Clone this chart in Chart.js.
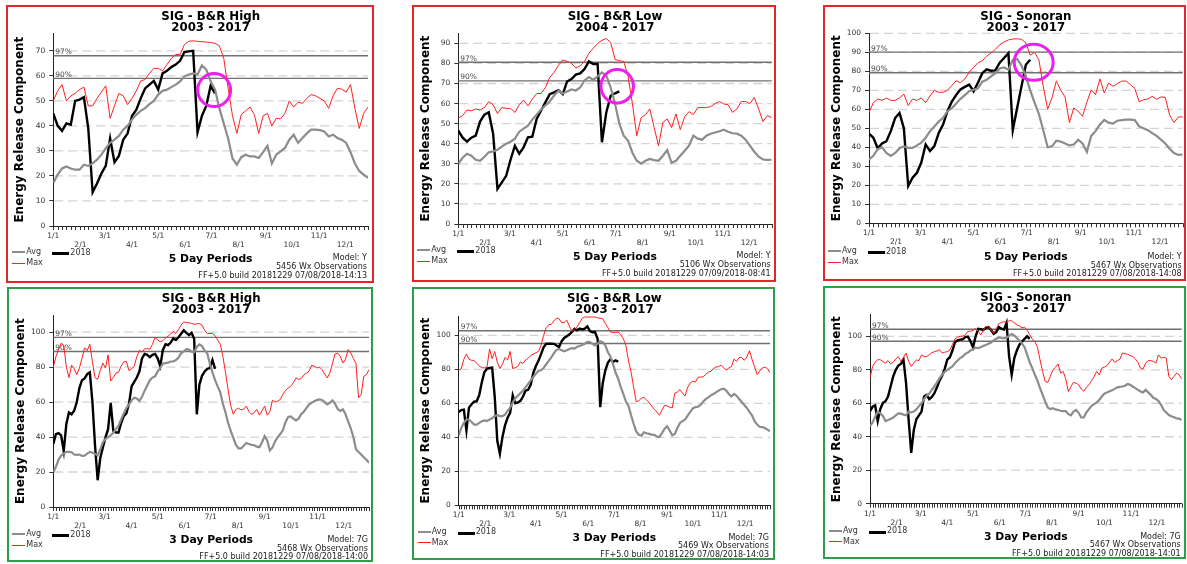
<!DOCTYPE html>
<html><head><meta charset="utf-8">
<script src="https://cdn.jsdelivr.net/npm/chart.js@4.4.1/dist/chart.umd.min.js"></script>
<style>
html,body{margin:0;padding:0;background:#fff;}
body{width:1187px;height:564px;position:relative;overflow:hidden;font-family:'DejaVu Sans','Liberation Sans',sans-serif;}
.panel{position:absolute;box-sizing:border-box;border:2px solid;}
.panel canvas{position:absolute;left:0;top:0;}
.t{position:absolute;white-space:nowrap;color:#000;}
.ln{position:absolute;}
</style></head><body>
<script>
// ---------- tick labels / categories ----------
const monthLabels = ['1/1','2/1','3/1','4/1','5/1','6/1','7/1','8/1','9/1','10/1','11/1','12/1'];
const monthStartDays = [0,31,59,90,120,151,181,212,243,273,304,334];
const yTicksTop1 = [0,10,20,30,40,50,60,70];
const yTicksTop2 = [0,10,20,30,40,50,60,70,80,90];
const yTicksTop3 = [0,10,20,30,40,50,60,70,80,90,100];
const yTicksBottom = [0,20,40,60,80,100];

// ---------- Panel 1: SIG - B&R High, 5 day ----------
const bhHigh5Avg = [17.2,20.5,23,23.8,23,22.5,22.5,24.5,24,25,26.5,28.5,31,33.2,34.5,36,38.5,40,42.5,44.5,46,47.1,48.7,50,52.5,54,54.5,55.5,56.5,57.8,59.8,60.5,61,60.5,64.2,62.5,57.8,54.5,47,41,35,27,24.5,27.5,28.5,27.8,27.8,27.2,29.5,32,25,28.5,29.8,31.2,34.5,36.5,33.2,35.2,37,38.5,38.5,38.3,37.8,35.8,36.5,35.2,34.5,33.2,29.5,25,22,20.5,19.2];
const bhHigh5Max = [50,54,56.5,50,52,53,54.5,55.5,48,48,51,53.5,56,43,48,53,52,48.5,51,54,58,58.5,61,63,63,62,64.5,67,68.5,68.5,72.5,73.8,74,73.8,73.6,73.5,73.3,73,72,67,55,44,37,44.5,46,47.5,44.5,37,44,45,40,43,42.8,45,50,47.5,49.5,49,51,52.5,52,51,50,47,52,55,54.7,53.5,56.5,47,39,45,47.5];
const bhHigh5Y2018 = [45,40,38,41,40.5,50,50.5,51.5,39,13.5,17,21,24,35,25.5,28,34.5,37,44,46.5,51,55,56.5,58,54.5,61,62,63.5,64.5,66,69.5,69.8,70,37.5,44,48,56,53];

// ---------- Panel 2: SIG - B&R Low, 5 day ----------
const bhLow5Avg = [30,33,35,34,32,31.5,33.5,35.7,36.2,37,38.5,40,41,42.5,46,47.5,49,52,54.5,57,59,61,64,66.4,65,66,67,66.5,68,71.5,73.2,71.8,73.5,75.5,74,68,60,50,44,41.5,35.5,31.5,30,31.5,32.4,31.8,31.5,34,36.8,30.5,31.5,34,36.5,39,44,42.5,42,44,45,45.6,46.2,47,46,45.2,45,44,42,39,36,33.5,32.2,31.9,32];
const bhLow5Max = [52.8,54,56.8,56.4,57.3,56.8,58,61,59.4,55,58,57.6,57.6,55.6,59.4,61.7,58.8,62.2,65,65,68,73,75.5,79,81.7,81,80,77.7,78.8,81,85,87.5,90,91.5,92.4,90.5,82,81.3,81,73.5,60,44,53,54.4,57.3,48,39,50.6,52.3,48,54.8,47,53.4,56,54.5,58,58,58,58.5,60,61,59.8,59.4,55.6,57.3,61,61,60,63,57.3,51,54,53];
const bhLow5Y2018 = [46.5,43,41,43,44,51,54.5,55.6,45,17.5,20.7,24,32,39,35,38.2,43.2,43.5,52.3,56.4,60.6,64.7,65.6,66.7,64.7,71,72.2,74.4,75,77.2,81,79.7,79.7,40.7,55.6,63.9,65.1,66.1];

// ---------- Panel 3: SIG - Sonoran, 5 day ----------
const son5Avg = [33.6,35.5,39,40,37,35.5,37,39.5,40.5,39.7,39.7,41,42.5,45,48.5,51,53.5,55.5,59,60.5,63,65.5,67.5,69.5,70.3,71,74.5,75.5,77.3,79,81.5,82,80.8,86,86.5,83,77.3,70,63.5,57.5,49,40,40.5,43.5,43,42,41,41.5,44,42,37.5,46,48.5,52,54.4,53,52.5,54,54.3,54.6,54.6,54.3,51,50,49,47.5,46,44,42,39.2,37,36,36.2];
const son5Max = [58.4,63.5,65.4,64.7,65.9,64.7,64.7,66,68,62,65.4,64.7,66,63.5,67,70,69,68.9,70,72.5,75,74,76,79.5,82,84.5,85.5,88,89.6,91.5,94,95.5,96.5,97,97.1,96.8,95,88.5,90,86,72,60,66,75,70,66.5,53,60.7,59,56.3,63.7,70.3,67.7,76,68.6,73.8,72.1,73.5,74.8,74.9,73,71,64,65,65.4,66.8,65.3,66.5,66.2,57,53,56,56];
const son5Y2018 = [47.2,45,39.5,42,43.2,48.5,55.4,58.1,50,19.6,24,26.6,32,41.5,38,40.6,47.5,52,59,64,67.5,70.5,71.8,73,69.5,74,79,81,80.3,80.5,84.5,87,89.5,49,60.7,72.1,83.4,86.1];

// ---------- Panel 4: SIG - B&R High, 3 day ----------
const bhHigh3Avg = [20,23,27,29.4,30.5,31.5,31.5,31.3,30,29.8,
30,29.2,29.4,30.5,31.5,31,30.4,29.5,33,37,
39,39.8,41,42.5,44.5,46.5,50,53.5,56.5,58.5,
61,62.5,62,60.6,63,66.5,69.5,72.5,74,74.7,
77.5,79.5,82,82.3,82.5,83.2,83.2,84,85.5,88,
89,90.2,90,88.8,88.5,91.5,93,92,89.5,87.9,
82,77,72.5,69,65.5,59,54,48,43.5,39.5,
35.5,33.5,33.5,35,36.6,36,35.5,35.3,34.5,34.2,
37,40.5,38,32.3,34,37.5,40,41.7,44,48.5,
51.5,51.8,50.5,49.5,50.5,53,54.5,56.5,58.5,59.5,
60.5,61.1,61.5,61.2,60,58.7,59.6,61,59,56,
54.9,55.8,53,49,45,40,33,31.5,30,28.5,
27,25.3];
const bhHigh3Max = [80,86,90,93.6,92.5,80,74,81,79,75.7,
79.4,85,91,89.5,93,83,74,73,78,82.3,
79.4,87,72,74,76.6,77,80.5,83,83.2,78,
79,80.4,86,89.5,88.5,90.5,90.5,90.2,93,97,
95.5,94.5,95,96.5,97.7,99,100.2,99.2,101.5,104,
105.8,105.5,105.3,105,104.5,104.7,104.9,104,101,99.2,
99.2,99.2,98,95.5,93,86,77,67,58,53,
55.8,56.5,55.5,56,57.7,54.5,53,54,55.8,52.5,
55,57.7,52.5,54.5,61,60,60.5,61.5,64.5,66.5,
68,69,71,73.8,73,73.5,75.5,76.5,77.5,81,
80.5,79.5,80,78.5,76,73.8,76.6,82,87.5,88,
86,82.3,84.5,90,88,85,82,62.5,64.3,74.7,
75.7,78.5];
const bhHigh3Y2018 = [36,41.7,42.3,41,32,47.5,54,53,55,60,
68,72.5,73.5,76,77,60,35,15.3,28,34,
39.8,44.5,59.6,43.6,42.6,42.6,48,52,53.5,59,
69,71.5,74,77.5,85,87.5,87,85.7,87,87.5,
85,80.5,89.8,93,92.5,94,96.4,95.5,97,99,
101,99.5,98.3,99.6,96,53,70,75,77.5,79,
79.4,84,79];

// ---------- Panel 5: SIG - B&R Low, 3 day ----------
const bhLow3Avg = [41.2,45.5,48.5,50.5,50.5,49,47.5,47.5,48.5,49.5,
50,49.6,50.5,51.2,52.5,53,52.5,52.5,53.3,55.5,
57.5,60.5,63,64.5,66,67.5,69.5,71.5,73.5,75.5,
77.5,79,79.4,80.8,83,85,87,89.5,91.5,92,
91.2,90.6,91.3,92,92.5,92.2,93.3,93.7,94.3,95.1,
96.2,96,95,94.1,95,96.5,96,94.1,90,87.5,
83,78,74.5,69.5,65.5,61,58.5,53,48,43.5,
41.5,41,43,42.4,42,41.6,41.5,40.5,40.2,42.5,
45,46.5,44,41.2,42,45.5,48.5,49.5,50.5,52.8,
55,57,57.8,58,59,61,62.5,63.5,64.7,65.5,
66.5,67.5,68.3,68.6,67.5,65.5,64,65.5,64.5,62.5,
60.8,59,57.3,55,53,49.5,47.5,46.2,46,45.5,
44.5,43.5];
const bhLow3Max = [79.4,80.4,86,89,86,85.3,85.3,83.5,82,81,
80.8,81.4,92,86.3,90.5,84.3,80.4,83,87,85.5,
90.6,80.4,81,81.8,84.3,83.5,85.5,86.5,88.2,89,
89.8,90.6,94,100,104.5,106.3,106.5,108.5,110.2,109.8,
107.5,107.5,109,105.5,102.5,103.5,105,107.5,110,110.8,
110.8,110.8,110.8,110.8,110.4,110,109.8,107,104.5,102,
101.7,101.8,102,100.4,98,94,85,78.4,69.5,61,
61.5,63,63.5,62,60.5,58.5,56.5,55,53,56,
58.8,58.5,57.8,57.3,66,66.7,68,66,64.3,69.5,
72,73,72.5,75.3,75.5,75.5,77,78.4,78.8,80.5,
81.4,81.6,82.4,80.8,79.6,80.8,81.6,86,84.7,87,
87,85.3,87.3,91,86,81.5,77,79,80.8,81.4,
80.4,78];
const bhLow3Y2018 = [54.9,56,56.3,44,57.5,59.5,61,61.2,65,72.5,
78.4,80.4,80.8,81,64,38,30.4,40.2,47,51.5,
54.5,64.7,60,60.5,61.5,64,67.5,68,71,78,
82,85,89,93,95.1,95.1,95.1,95,94,93.1,
96.5,98.5,99.5,100.5,102,103.9,103,104,103.5,104,
105.3,102.5,101.8,102,98,57.8,72,79.4,84,86,
84.3,85.3,84.5];

// ---------- Panel 6: SIG - Sonoran, 3 day ----------
const son3Avg = [46.4,48.5,52,55,54,52.4,49.4,50,50.6,51.5,
52.8,54,53.8,53.2,52.8,55,54.5,55,56.3,58.3,
60,62.5,64.5,65.8,68,70,72.5,75,77,78.8,
80,81,82,84,85.5,87,87.9,89.5,90.3,91.5,
92.2,93.2,93,93.5,94.3,94.8,95.5,96.3,97.5,98.5,
99.3,99,98.8,99.2,100.2,101.3,100.5,99,97.4,95.8,
93.5,89,84.5,81,77,73.5,69,65.2,61,57.5,
56.5,57,56.3,56,55.5,55.3,55.3,53.5,52.8,55,
56,54.3,51.5,51.5,54.5,56.5,58.5,59.5,60.5,62,
64,65.7,66.5,67.2,67.8,68.6,69.5,69.8,70,70.5,
71.5,71,70,69,68,67,66.5,68,66.5,65,
63.3,62.6,61.3,59,56,54.5,53,52.2,51.6,51,
50.8,50];
const son3Max = [75,82,84.5,86,86,85,84,85.5,83.5,84.5,
86.5,87.9,85,87.5,90,85,82,84,85.9,85.5,
88.9,87.9,87.9,89,90.2,90.8,91.2,92,90,90.5,
90.8,91.8,95,98.5,99.5,100,100.1,100.8,103,103,
103.5,104.7,103,100.8,103.7,106,105.7,103.7,101.7,104.5,
107.5,108.3,108.6,108.6,109.2,109.4,108,107,106.1,105,
105.5,103.5,101,98.5,96.8,93.5,86,79,73,72.5,
76,80,81.5,83.5,78,79,74.5,67,70,72.5,
72,71,68.5,67.2,69.5,71,73.5,76,79,77,
81,81.6,82.5,84.5,86.5,84.5,85.5,86.3,90,89.7,
89.2,88.5,87.9,86.5,84.5,81,80.5,83.9,85.5,85.5,
85,84,88.9,87,87.5,87,76,74.1,76,78,
77,74.5];
const son3Y2018 = [55.3,57.9,58.7,49.4,56.5,60.2,61.2,64,70,76,
80,82.5,83.5,86,72,50,30.3,44,50.5,52.8,
55,64,65,62.5,63.8,66,69.5,73.5,76.5,80.5,
86,87.5,91.5,96.5,97.6,98,98.2,99.5,99.8,97,
93.4,100,104.5,104.2,103.8,105,105.5,103.7,101.5,102.5,
105.5,104.5,104,108,88,77,86.9,91.5,95,96.8,
98.5,100,98.5];

// ---------- percentile levels ----------
const pct97 = [68, 80.6, 90.1, 97, 102.7, 104.2];
const pct90 = [59, 71.3, 79.2, 88.9, 95.2, 97];

// ---------- layout / panel configuration ----------
const FONT = "'DejaVu Sans','Liberation Sans',sans-serif";
const RED = '#e32727', GREEN = '#2f9e4a';
const panels = [
 {box:[6,5,368,278], frame:RED, area:[53.3,33.3,368,226], ymax:77, yTicks:yTicksTop1, step:5, n:72,
  t1:'SIG - B&R High', t2:'2003 - 2017', per:'5 Day Periods', model:'Model: Y', obs:'5456 Wx Observations', build:'FF+5.0 build 20181229 07/08/2018-14:13',
  avg:bhHigh5Avg, max:bhHigh5Max, cur:bhHigh5Y2018, p97:pct97[0], p90:pct90[0], footY:258.5, circle:{x:36.8,y:54.3,rx:16.5,ry:16.5}},
 {box:[412,5,364,277], frame:RED, area:[458.3,33.3,771.7,224], ymax:95, yTicks:yTicksTop2, step:5, n:72,
  t1:'SIG - B&R Low', t2:'2004 - 2017', per:'5 Day Periods', model:'Model: Y', obs:'5106 Wx Observations', build:'FF+5.0 build 20181229 07/09/2018-08:41',
  avg:bhLow5Avg, max:bhLow5Max, cur:bhLow5Y2018, p97:pct97[1], p90:pct90[1], footY:256.7, circle:{x:36.5,y:68.6,rx:16.3,ry:16.7}},
 {box:[823,5,363,276], frame:RED, area:[869,33.3,1182.7,223.3], ymax:100, yTicks:yTicksTop3, step:5, n:72,
  t1:'SIG - Sonoran', t2:'2003 - 2017', per:'5 Day Periods', model:'Model: Y', obs:'5467 Wx Observations', build:'FF+5.0 build 20181229 07/08/2018-14:08',
  avg:son5Avg, max:son5Max, cur:son5Y2018, p97:pct97[2], p90:pct90[2], footY:257.3, circle:{x:37.8,y:84.7,rx:19.5,ry:18}},
 {box:[7,287,366,275], frame:GREEN, area:[53.3,315.3,369,507], ymax:109.6, yTicks:yTicksBottom, step:3, n:121,
  t1:'SIG - B&R High', t2:'2003 - 2017', per:'3 Day Periods', model:'Model: 7G', obs:'5468 Wx Observations', build:'FF+5.0 build 20181229 07/08/2018-14:00',
  avg:bhHigh3Avg, max:bhHigh3Max, cur:bhHigh3Y2018, p97:pct97[3], p90:pct90[3], footY:540.3, circle:null},
 {box:[412,287,363,273], frame:GREEN, area:[458.7,316,770,505.3], ymax:111.4, yTicks:yTicksBottom, step:3, n:121,
  t1:'SIG - B&R Low', t2:'2003 - 2017', per:'3 Day Periods', model:'Model: 7G', obs:'5469 Wx Observations', build:'FF+5.0 build 20181229 07/08/2018-14:03',
  avg:bhLow3Avg, max:bhLow3Max, cur:bhLow3Y2018, p97:pct97[4], p90:pct90[4], footY:538, circle:null},
 {box:[823,286,363,273], frame:GREEN, area:[870,314.7,1181.7,503.7], ymax:112.9, yTicks:yTicksBottom, step:3, n:121,
  t1:'SIG - Sonoran', t2:'2003 - 2017', per:'3 Day Periods', model:'Model: 7G', obs:'5467 Wx Observations', build:'FF+5.0 build 20181229 07/08/2018-14:01',
  avg:son3Avg, max:son3Max, cur:son3Y2018, p97:pct97[5], p90:pct90[5], footY:537, circle:null}
];

function toXY(arr){ return arr.map((v,i)=>({x:i,y:v})); }

function makeDecor(p){
  return {
    id:'decor',
    beforeDatasetsDraw(chart){
      const {ctx, chartArea:a, scales:{x,y}} = chart;
      ctx.save();
      // dashed grid
      ctx.strokeStyle='#d4d4d4'; ctx.lineWidth=1.3; ctx.setLineDash([9,5]);
      p.yTicks.forEach(v=>{ if(v===0) return; const py=y.getPixelForValue(v);
        ctx.beginPath(); ctx.moveTo(a.left+1,py); ctx.lineTo(a.right,py); ctx.stroke(); });
      ctx.setLineDash([]);
      // percentile lines
      ctx.strokeStyle='#707070'; ctx.lineWidth=1.4;
      ctx.font='7.5px '+FONT; ctx.fillStyle='#4a4a4a'; ctx.textBaseline='alphabetic'; ctx.textAlign='left';
      [[p.p97,'97%'],[p.p90,'90%']].forEach(([v,t])=>{ const py=y.getPixelForValue(v);
        ctx.beginPath(); ctx.moveTo(a.left,py); ctx.lineTo(a.right,py); ctx.stroke();
        ctx.fillText(t,a.left+2,py-1.5); });
      // minor ticks, one per period
      ctx.strokeStyle='#333'; ctx.lineWidth=1;
      for(let i=0;i<=p.n;i++){ const px=Math.round(x.getPixelForValue(i))+0.5;
        ctx.beginPath(); ctx.moveTo(px,a.bottom); ctx.lineTo(px,a.bottom+4); ctx.stroke(); }
      ctx.restore();
    },
    afterDatasetsDraw(chart){
      if(!p.circle) return;
      const {ctx, scales:{x,y}} = chart;
      ctx.save();
      ctx.strokeStyle='#ee1fee'; ctx.lineWidth=3;
      ctx.beginPath();
      ctx.ellipse(x.getPixelForValue(p.circle.x), y.getPixelForValue(p.circle.y), p.circle.rx, p.circle.ry, 0, 0, Math.PI*2);
      ctx.stroke();
      ctx.restore();
    }
  };
}

function addText(txt, css){
  const d=document.createElement('div'); d.className='t'; d.textContent=txt;
  Object.assign(d.style, css); document.body.appendChild(d); return d;
}
function addLine(left, top, w, h, color){
  const d=document.createElement('div'); d.className='ln';
  Object.assign(d.style,{left:Math.round(left)+'px',top:Math.round(top)+'px',width:w+'px',height:h+'px',background:color});
  document.body.appendChild(d);
}

Chart.defaults.font.family = FONT;

panels.forEach(p=>{
  const [bx,by,bw,bh]=p.box;
  const cx=bx+2, cy=by+2, cw=bw-4, ch=bh-4;
  const div=document.createElement('div'); div.className='panel';
  Object.assign(div.style,{left:bx+'px',top:by+'px',width:bw+'px',height:bh+'px',borderColor:p.frame});
  const cv=document.createElement('canvas'); cv.width=cw; cv.height=ch;
  cv.style.width=cw+'px'; cv.style.height=ch+'px';
  div.appendChild(cv); document.body.appendChild(div);

  const [al,at,ar,ab]=p.area;
  const YW=al-cx, XH=30;
  const padTop=at-cy, padRight=cw-(ar-cx), padBottom=ch-(ab-cy)-XH;

  new Chart(cv,{
    type:'line',
    data:{datasets:[
      {label:'Avg', data:toXY(p.avg), borderColor:'#8c8c8c', borderWidth:2.2, pointRadius:0, tension:0},
      {label:'Max', data:toXY(p.max), borderColor:'#ff1f1f', borderWidth:1, pointRadius:0, tension:0},
      {label:'2018', data:toXY(p.cur), borderColor:'#000', borderWidth:2.4, pointRadius:0, tension:0}
    ]},
    options:{
      responsive:false, animation:false, events:[],
      layout:{padding:{left:0, top:padTop, right:padRight, bottom:padBottom}},
      plugins:{legend:{display:false}, tooltip:{enabled:false}, title:{display:false}},
      scales:{
        x:{type:'linear', min:0, max:p.n,
          afterBuildTicks:s=>{ s.ticks=monthStartDays.map(d=>({value:d/p.step})); },
          afterFit:s=>{ s.height=XH; },
          grid:{display:false, drawTicks:false},
          border:{display:true, color:'#222', width:1},
          ticks:{autoSkip:false, maxRotation:0, minRotation:0, padding:5.5, color:'#333',
            font:{size:7.5, lineHeight:'9px'},
            callback:(v,i)=> i%2 ? ['', monthLabels[i]] : monthLabels[i]}
        },
        y:{type:'linear', min:0, max:p.ymax,
          afterBuildTicks:s=>{ s.ticks=p.yTicks.map(v=>({value:v})); },
          afterFit:s=>{ s.width=YW; },
          grid:{display:true, drawOnChartArea:false, drawTicks:true, tickLength:4, tickColor:'#333'},
          border:{display:true, color:'#222', width:1},
          ticks:{padding:4, color:'#333', font:{size:7.5}},
          title:{display:true, text:'Energy Release Component', color:'#000',
            font:{size:12, weight:'bold', lineHeight:1.2}, padding:{top:4.5, bottom:0}}
        }
      }
    },
    plugins:[makeDecor(p)]
  });

  const mid=(al+ar)/2;
  // titles
  const t=addText('', {left:(mid-150)+'px', top:(by+5.5)+'px', width:'300px', textAlign:'center',
    font:'bold 11.8px '+FONT, lineHeight:'11.5px'});
  t.appendChild(document.createTextNode(p.t1)); t.appendChild(document.createElement('br')); t.appendChild(document.createTextNode(p.t2));
  // period label
  addText(p.per, {left:(mid-100)+'px', top:(p.footY-6)+'px', width:'200px', textAlign:'center',
    font:'bold 10.8px '+FONT, lineHeight:'12px'});
  // footer (right aligned)
  const f=addText('', {left:(ar-1-250)+'px', top:(p.footY-4.4)+'px', width:'250px', textAlign:'right',
    font:'8px '+FONT, lineHeight:'8.8px', color:'#222'});
  [p.model,p.obs,p.build].forEach((s,i)=>{ if(i) f.appendChild(document.createElement('br')); f.appendChild(document.createTextNode(s)); });
  // legend
  const avgY=p.footY-6.3, maxY=p.footY+4.7;
  addLine(al-41, avgY-1, 13, 2, '#8c8c8c');
  addText('Avg', {left:(al-27)+'px', top:(avgY-5)+'px', font:'8px '+FONT, lineHeight:'10px', color:'#333'});
  addLine(al-41, maxY-0.5, 13, 1, '#ff1f1f');
  addText('Max', {left:(al-27)+'px', top:(maxY-5)+'px', font:'8px '+FONT, lineHeight:'10px', color:'#333'});
  addLine(al-1, avgY, 17, 3, '#000');
  addText('2018', {left:(al+17)+'px', top:(avgY-4.5)+'px', font:'8px '+FONT, lineHeight:'10px', color:'#333'});
});
</script>
</body></html>
